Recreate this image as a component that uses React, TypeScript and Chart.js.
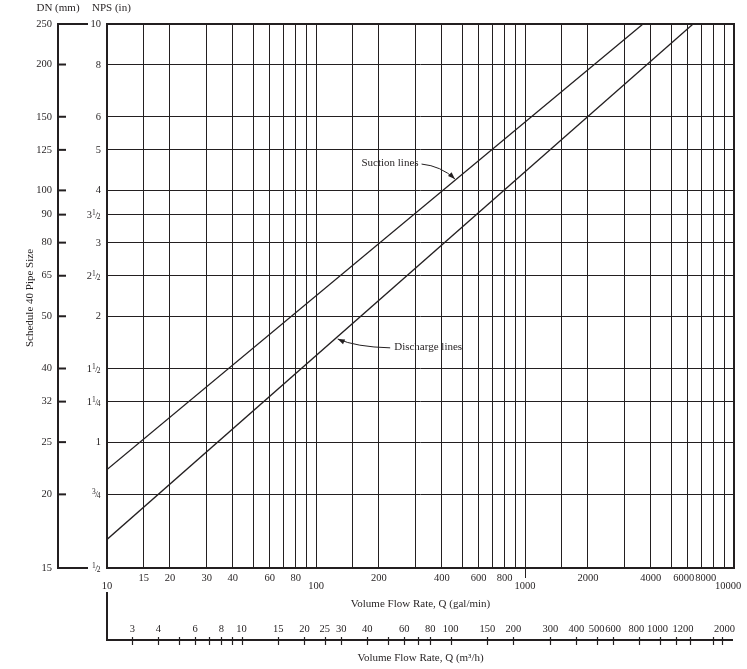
import React, { useEffect, useRef } from 'react';
import { Chart, registerables } from 'chart.js';

Chart.register(...registerables);

// ---- Data ----
const flowGridGpm = [10, 15, 20, 30, 40, 50, 60, 70, 80, 90, 100, 150, 200, 300, 400, 500, 600, 700, 800, 900, 1000, 1500, 2000, 3000, 4000, 5000, 6000, 7000, 8000, 9000, 10000];
const gpmTickLabels = [15, 20, 30, 40, 60, 80, 200, 400, 600, 800, 2000, 4000, 6000, 8000];
const gpmDecadeLabels = [10, 100, 1000, 10000];
const npsValues = [0.5, 0.75, 1, 1.25, 1.5, 2, 2.5, 3, 3.5, 4, 5, 6, 8, 10];
const npsLabels = ['1/2', '3/4', '1', '1 1/4', '1 1/2', '2', '2 1/2', '3', '3 1/2', '4', '5', '6', '8', '10'];
const dnLabels = ['15', '20', '25', '32', '40', '50', '65', '80', '90', '100', '125', '150', '200', '250'];
const m3hTicks = [3, 4, 5, 6, 7, 8, 9, 10, 15, 20, 25, 30, 40, 50, 60, 70, 80, 100, 150, 200, 300, 400, 500, 600, 800, 1000, 1200, 1400, 1800, 2000];
const m3hLabels = [3, 4, 6, 8, 10, 15, 20, 25, 30, 40, 60, 80, 100, 150, 200, 300, 400, 500, 600, 800, 1000, 1200, 2000];
const GPM_PER_M3H = 4.40287;

const suctionQ = [10, 3670];
const suctionNps = [0.86, 10];
const dischargeQ = [10, 6370];
const dischargeNps = [0.585, 10];

// annotation anchors (data units: gal/min, NPS)
const suctionText = { q: 226, nps: 4.65, label: 'Suction lines' };
const suctionTip = { q: 462, nps: 4.26 };
const dischargeText = { q: 344, nps: 1.69, label: 'Discharge lines' };
const dischargeTip = { q: 127, nps: 1.765 };

const INK = '#231f20';
const FONT = '"Liberation Serif", "Times New Roman", serif';
const TICK_FONT = `10.5px ${FONT}`;
const TITLE_FONT = `11px ${FONT}`;

function drawNps(ctx: CanvasRenderingContext2D, label: string, rightX: number, cy: number) {
  const parts = label.split(' ');
  let whole = '';
  let frac = '';
  if (parts.length === 2) { whole = parts[0]; frac = parts[1]; }
  else if (label.includes('/')) { frac = label; }
  else { whole = label; }
  ctx.textAlign = 'left';
  ctx.textBaseline = 'alphabetic';
  const big = TICK_FONT;
  const small = `7.5px ${FONT}`;
  const slashF = `9px ${FONT}`;
  let num = '', den = '';
  if (frac) { [num, den] = frac.split('/'); }
  ctx.font = big; const wW = whole ? ctx.measureText(whole).width : 0;
  ctx.font = small; const wN = num ? ctx.measureText(num).width : 0;
  const wD = den ? ctx.measureText(den).width : 0;
  ctx.font = slashF; const wS = frac ? ctx.measureText('/').width - 1 : 0;
  const total = wW + wN + wS + wD;
  let x0 = rightX - total;
  const base = cy + 4;
  if (whole) { ctx.font = big; ctx.fillText(whole, x0, base); x0 += wW; }
  if (frac) {
    ctx.font = small; ctx.fillText(num, x0, base - 3); x0 += wN - 0.5;
    ctx.font = slashF; ctx.fillText('/', x0, base); x0 += wS;
    ctx.font = small; ctx.fillText(den, x0, base + 1);
  }
}

function arrow(ctx: CanvasRenderingContext2D, x0: number, y0: number, cx: number, cy: number, x1: number, y1: number) {
  ctx.beginPath();
  ctx.moveTo(x0, y0);
  ctx.quadraticCurveTo(cx, cy, x1, y1);
  ctx.lineWidth = 1;
  ctx.stroke();
  const a = Math.atan2(y1 - cy, x1 - cx);
  const L = 7, W = 2.6;
  ctx.beginPath();
  ctx.moveTo(x1, y1);
  ctx.lineTo(x1 - L * Math.cos(a) + W * Math.sin(a), y1 - L * Math.sin(a) - W * Math.cos(a));
  ctx.lineTo(x1 - L * Math.cos(a) - W * Math.sin(a), y1 - L * Math.sin(a) + W * Math.cos(a));
  ctx.closePath();
  ctx.fill();
}

const decorPlugin = {
  id: 'decor',
  afterDraw(chart: any) {
    const { ctx, chartArea: ca } = chart;
    const x = chart.scales.x;
    const y = chart.scales.y;
    ctx.save();
    ctx.strokeStyle = INK;
    ctx.fillStyle = INK;

    // frame
    ctx.lineWidth = 2;
    ctx.strokeRect(ca.left, ca.top, ca.right - ca.left, ca.bottom - ca.top);

    // DN axis
    const axisX = ca.left - 49;
    ctx.beginPath();
    ctx.moveTo(axisX, ca.top - 1);
    ctx.lineTo(axisX, ca.bottom + 1);
    ctx.stroke();
    npsValues.forEach((v, i) => {
      const py = y.getPixelForValue(v);
      const len = (i === 0 || i === npsValues.length - 1) ? 30 : 8;
      ctx.lineWidth = 2;
      ctx.beginPath();
      ctx.moveTo(axisX, py);
      ctx.lineTo(axisX + len, py);
      ctx.stroke();
      ctx.font = TICK_FONT;
      ctx.textAlign = 'right';
      ctx.textBaseline = 'middle';
      ctx.fillText(dnLabels[i], axisX - 6, py);
      drawNps(ctx, npsLabels[i], ca.left - 6, py - 1);
    });

    // headers
    ctx.font = TITLE_FONT;
    ctx.textBaseline = 'middle';
    ctx.textAlign = 'center';
    ctx.fillText('DN (mm)', axisX, ca.top - 16);
    ctx.textAlign = 'left';
    ctx.fillText('NPS (in)', ca.left - 15, ca.top - 16);

    // y title
    ctx.save();
    ctx.translate(30, (ca.top + ca.bottom) / 2 + 2);
    ctx.rotate(-Math.PI / 2);
    ctx.textAlign = 'center';
    ctx.fillText('Schedule 40 Pipe Size', 0, 0);
    ctx.restore();

    // gpm labels
    const lblOffset: Record<number, number> = { 6000: -4, 8000: -8, 10000: -6 };
    ctx.font = TICK_FONT;
    ctx.textAlign = 'center';
    gpmTickLabels.forEach(v => {
      ctx.fillText(String(v), x.getPixelForValue(v) + (lblOffset[v] || 0), ca.bottom + 10);
    });
    gpmDecadeLabels.forEach(v => {
      ctx.fillText(String(v), x.getPixelForValue(v) + (lblOffset[v] || 0), ca.bottom + 18);
    });
    // 1000 tick extension
    ctx.lineWidth = 1;
    const p1000 = Math.round(x.getPixelForValue(1000)) + 0.5;
    ctx.beginPath();
    ctx.moveTo(p1000, ca.bottom);
    ctx.lineTo(p1000, ca.bottom + 10);
    ctx.stroke();

    ctx.font = TITLE_FONT;
    ctx.fillText('Volume Flow Rate, Q (gal/min)', (ca.left + ca.right) / 2, ca.bottom + 36);

    // m3/h axis
    const ay = ca.bottom + 72;
    ctx.lineWidth = 2;
    ctx.beginPath();
    ctx.moveTo(ca.left, ay - 48);
    ctx.lineTo(ca.left, ay);
    ctx.lineTo(ca.right - 1, ay);
    ctx.stroke();
    ctx.lineWidth = 1.2;
    m3hTicks.forEach(m => {
      const px = Math.round(x.getPixelForValue(m * GPM_PER_M3H)) + 0.5;
      ctx.beginPath();
      ctx.moveTo(px, ay - 3);
      ctx.lineTo(px, ay + 5);
      ctx.stroke();
    });
    const mOffset: Record<number, number> = { 800: -3, 1000: -2, 1200: 7, 2000: 2 };
    ctx.font = TICK_FONT;
    m3hLabels.forEach(m => {
      ctx.fillText(String(m), x.getPixelForValue(m * GPM_PER_M3H) + (mOffset[m] || 0), ay - 11);
    });
    ctx.font = TITLE_FONT;
    ctx.fillText('Volume Flow Rate, Q (m\u00b3/h)', (ca.left + ca.right) / 2, ay + 18);

    // annotations
    ctx.font = TITLE_FONT;
    const stx = x.getPixelForValue(suctionText.q);
    const sty = y.getPixelForValue(suctionText.nps);
    ctx.fillText(suctionText.label, stx, sty);
    const sw = ctx.measureText(suctionText.label).width;
    const s0x = stx + sw / 2 + 3;
    const tipSx = x.getPixelForValue(suctionTip.q);
    const tipSy = y.getPixelForValue(suctionTip.nps);
    arrow(ctx, s0x, sty + 1, tipSx - 14, tipSy - 13, tipSx, tipSy);

    const dtx = x.getPixelForValue(dischargeText.q);
    const dty = y.getPixelForValue(dischargeText.nps);
    ctx.fillText(dischargeText.label, dtx, dty);
    const dw = ctx.measureText(dischargeText.label).width;
    const d0x = dtx - dw / 2 - 4;
    const tipDx = x.getPixelForValue(dischargeTip.q);
    const tipDy = y.getPixelForValue(dischargeTip.nps);
    arrow(ctx, d0x, dty + 1, tipDx + 18, tipDy + 8, tipDx, tipDy);

    ctx.restore();
  },
};

export default function App() {
  const ref = useRef<HTMLCanvasElement | null>(null);
  useEffect(() => {
    if (!ref.current) return;
    const chart = new Chart(ref.current, {
      type: 'scatter',
      data: {
        datasets: [
          {
            label: 'Suction lines',
            data: suctionQ.map((q, i) => ({ x: q, y: suctionNps[i] })),
            showLine: true,
            borderColor: INK,
            borderWidth: 1.3,
            pointRadius: 0,
          },
          {
            label: 'Discharge lines',
            data: dischargeQ.map((q, i) => ({ x: q, y: dischargeNps[i] })),
            showLine: true,
            borderColor: INK,
            borderWidth: 1.3,
            pointRadius: 0,
          },
        ],
      },
      options: {
        responsive: false,
        animation: false,
        devicePixelRatio: 1,
        layout: { padding: { left: 107, top: 24, right: 13, bottom: 101 } },
        plugins: { legend: { display: false }, tooltip: { enabled: false } },
        scales: {
          x: {
            type: 'logarithmic',
            min: 10,
            max: 10000,
            ticks: { display: false },
            border: { display: false },
            grid: { color: INK, lineWidth: 1, drawTicks: false },
            afterBuildTicks: (s: any) => { s.ticks = flowGridGpm.map(v => ({ value: v })); },
            afterFit: (s: any) => { s.height = 0; },
          },
          y: {
            type: 'logarithmic',
            min: 0.5,
            max: 10,
            ticks: { display: false },
            border: { display: false },
            grid: { color: INK, lineWidth: 1, drawTicks: false },
            afterBuildTicks: (s: any) => { s.ticks = npsValues.map(v => ({ value: v })); },
            afterFit: (s: any) => { s.width = 0; },
          },
        },
      },
      plugins: [decorPlugin],
    } as any);
    return () => chart.destroy();
  }, []);
  return (
    <div style={{ position: 'absolute', left: 0, top: 0, width: 747, height: 669, background: '#fff' }}>
      <canvas ref={ref} width={747} height={669} style={{ display: 'block' }} />
    </div>
  );
}
